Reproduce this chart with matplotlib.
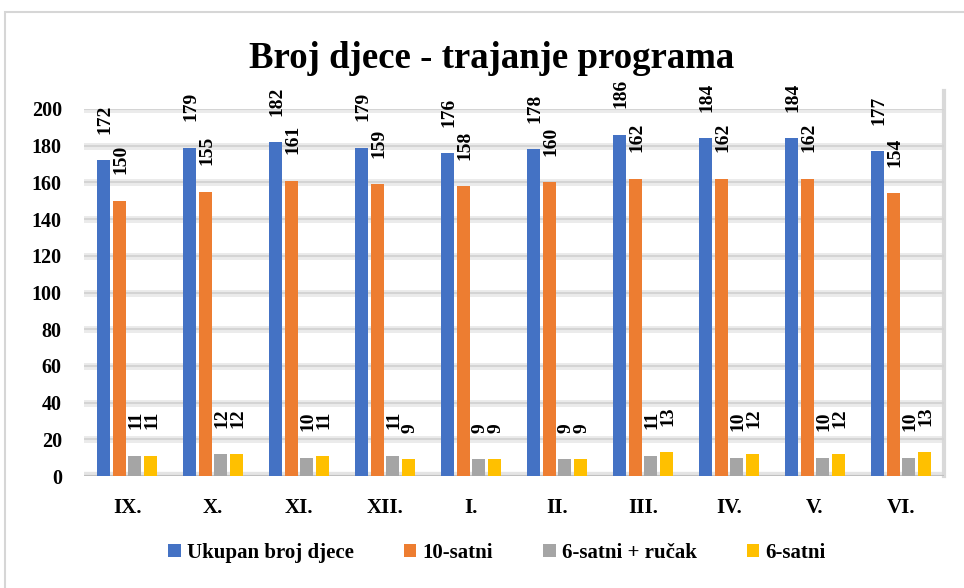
import numpy as np
import matplotlib.pyplot as plt
from matplotlib.patches import Rectangle

plt.rcParams['font.family'] = 'Liberation Serif'
plt.rcParams['font.weight'] = 'bold'

# data
months = ['IX.', 'X.', 'XI.', 'XII.', 'I.', 'II.', 'III.', 'IV.', 'V.', 'VI.']
ukupno = [172, 179, 182, 179, 176, 178, 186, 184, 184, 177]
satni10 = [150, 155, 161, 159, 158, 160, 162, 162, 162, 154]
satni6_rucak = [11, 12, 10, 11, 9, 9, 11, 10, 10, 10]
satni6 = [11, 12, 11, 9, 9, 9, 13, 12, 12, 13]

series = [
    ('Ukupan broj djece', ukupno, '#4472c4'),
    ('10-satni', satni10, '#ed7d31'),
    ('6-satni + ručak', satni6_rucak, '#a5a5a5'),
    ('6-satni', satni6, '#ffc000'),
]

fig = plt.figure(figsize=(9.64, 5.88), dpi=100)
ax = fig.add_axes([84 / 964, 1 - 476 / 588, 860 / 964, 367 / 588])

# outer chart border
fig.patches.append(Rectangle((5 / 964, -0.05), 1.1, 1 - 12 / 588 + 0.05,
                             transform=fig.transFigure, fill=False,
                             edgecolor='#d6d6d6', lw=1.5))

x = np.arange(len(months))
width = 0.15
step = 0.18
for i, (name, vals, col) in enumerate(series):
    pos = x + (i - 1.5) * step
    ax.bar(pos, vals, width, color=col, label=name, zorder=3)
    for p, v in zip(pos, vals):
        ax.annotate(str(v), (p, v), xytext=(1, 19), textcoords='offset points',
                    rotation=90, ha='center', va='bottom', fontsize=14,
                    fontweight='bold', zorder=4)

ax.set_xlim(-0.5, len(months) - 0.5)
ax.set_ylim(0, 200)
ax.set_yticks(range(0, 201, 20))
ax.set_xticks(x)
ax.set_xticklabels(months)
ax.tick_params(axis='both', length=0, labelsize=14.5)
ax.tick_params(axis='x', pad=16, labelsize=15)
ax.tick_params(axis='y', pad=16)

# gridlines with a soft shadow look
for yv in range(20, 201, 20):
    ax.axhline(yv, color='#ebebeb', lw=5, zorder=1)
    ax.axhline(yv, color='#d4d4d4', lw=1.5, zorder=2)
ax.axhline(0, color='#e4e4e4', lw=6, zorder=1)
ax.axhline(0, color='#bfbfbf', lw=1.5, zorder=2)
for s in ax.spines.values():
    s.set_visible(False)
ax.axvline(len(months) - 0.5, ymin=0, ymax=1.05, color='#d9d9d9', lw=3,
           clip_on=False, zorder=1)

fig.text(492 / 964, 1 - 58 / 588, 'Broj djece - trajanje programa', ha='center',
         va='center', fontsize=26.5, fontweight='bold')

fig.legend(loc='center', bbox_to_anchor=(497 / 964, 1 - 553 / 588), ncol=4,
           frameon=False, fontsize=15, handlelength=0.6, handleheight=0.6,
           handletextpad=0.3, columnspacing=2.4)

fig.savefig('out.png', dpi=100)
